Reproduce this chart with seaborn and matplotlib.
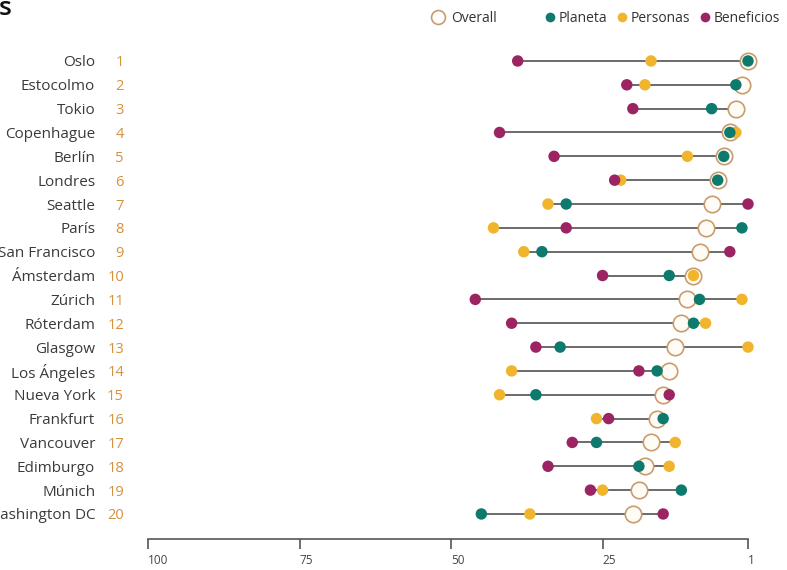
import numpy as np
import pandas as pd
import matplotlib
matplotlib.use('Agg')
import matplotlib.pyplot as plt
import seaborn as sns
from matplotlib.lines import Line2D
from matplotlib.transforms import blended_transform_factory

# Ranking data (1 = best)
cities = ["Oslo", "Estocolmo", "Tokio", "Copenhague", "Berlín", "Londres", "Seattle",
          "París", "San Francisco", "Ámsterdam", "Zúrich", "Róterdam", "Glasgow",
          "Los Ángeles", "Nueva York", "Frankfurt", "Vancouver", "Edimburgo",
          "Múnich", "Washington DC"]
overall = list(range(1, 21))
planeta = [1, 3, 7, 4, 5, 6, 31, 2, 35, 14, 9, 10, 32, 16, 36, 15, 26, 19, 12, 45]
personas = [17, 18, np.nan, 3, 11, 22, 34, 43, 38, 10, 2, 8, 1, 40, 42, 26, 13, 14, 25, 37]
beneficios = [39, 21, 20, 42, 33, 23, 1, 31, 4, 25, 46, 40, 36, 19, 14, 24, 30, 34, 27, 15]

series_names = ["Personas", "Beneficios", "Planeta"]
series_values = [personas, beneficios, planeta]
palette = {"Planeta": "#0E7A6E", "Personas": "#F0B52D", "Beneficios": "#9C2463"}

df = pd.DataFrame({"city": cities, "overall": overall, "Planeta": planeta,
                   "Personas": personas, "Beneficios": beneficios})
long_df = pd.concat([pd.DataFrame({"city": cities, "rank": v, "serie": n})
                     for n, v in zip(series_names, series_values)]).dropna()

sns.set_theme(style="white")
plt.rcParams['font.family'] = ['Open Sans', 'DejaVu Sans']

fig = plt.figure(figsize=(7.87, 5.70), dpi=100)
ax = fig.add_axes([148 / 787, 31 / 570, 600 / 787, 494 / 570])

# connecting line from worst to best component
vals = df[["overall", "Planeta", "Personas", "Beneficios"]]
ax.hlines(y=np.arange(len(cities)), xmin=vals.min(axis=1), xmax=vals.max(axis=1),
          color="#5f5f5f", lw=1.3, zorder=1)

sns.scatterplot(data=df, x="overall", y="city", ax=ax, s=140, marker="o",
                facecolor="#FFFCF6", edgecolor="#C99C6E", linewidth=1.2,
                zorder=2, legend=False)
sns.scatterplot(data=long_df, x="rank", y="city", hue="serie", hue_order=series_names,
                palette=palette, s=68, linewidth=0, ax=ax, zorder=3, legend=False)
for coll in ax.collections:
    coll.set_clip_on(False)

ax.set_xlim(100, 1)
ax.set_ylim(len(cities) - 1 + 1.05, -0.67)
ax.set_xticks([100, 75, 50, 25, 1])
ax.set_xlabel("")
ax.set_ylabel("")

ax.set_yticks(range(len(cities)))
ax.set_yticklabels(cities, fontsize=11, color="#3a3a3a")
ax.tick_params(axis="y", length=0, pad=38)
ax.tick_params(axis="x", direction="out", length=7, width=1.2, color="#555555",
               labelsize=8.5, labelcolor="#444444", pad=4, bottom=True)
for lab in ax.get_xticklabels():
    lab.set_horizontalalignment("left")

for side in ["left", "top", "right"]:
    ax.spines[side].set_visible(False)
ax.spines["bottom"].set_color("#555555")
ax.spines["bottom"].set_linewidth(1.2)

# rank numbers next to city names
trans = blended_transform_factory(fig.transFigure, ax.transData)
for i, r in enumerate(overall):
    ax.text(124 / 787, i, str(r), transform=trans, ha="right", va="center_baseline",
            fontsize=10.5, color="#D4913F")

# cut title remnant
fig.text(-0.002, 1 - 15 / 570, "s", fontsize=19, fontweight="semibold", color="#111111",
         ha="left", va="baseline")

# legend
h_over = [Line2D([], [], marker="o", ls="", markersize=10, markerfacecolor="white",
                 markeredgecolor="#C99C6E", markeredgewidth=1.2)]
fig.legend(h_over, ["Overall"], loc="center left", bbox_to_anchor=(423 / 787, 1 - 18 / 570),
           frameon=False, fontsize=10, handletextpad=0.3, borderpad=0, handlelength=1.2,
           labelcolor="#333333")
h_ser = [Line2D([], [], marker="o", ls="", markersize=7, markerfacecolor=palette[n],
                markeredgewidth=0) for n in ["Planeta", "Personas", "Beneficios"]]
fig.legend(h_ser, ["Planeta", "Personas", "Beneficios"], loc="center left",
           bbox_to_anchor=(536 / 787, 1 - 18 / 570), ncol=3, frameon=False, fontsize=10,
           handletextpad=0.1, columnspacing=0.6, borderpad=0, handlelength=1.0,
           labelcolor="#333333")

fig.savefig("out.png", dpi=100, facecolor="white")
